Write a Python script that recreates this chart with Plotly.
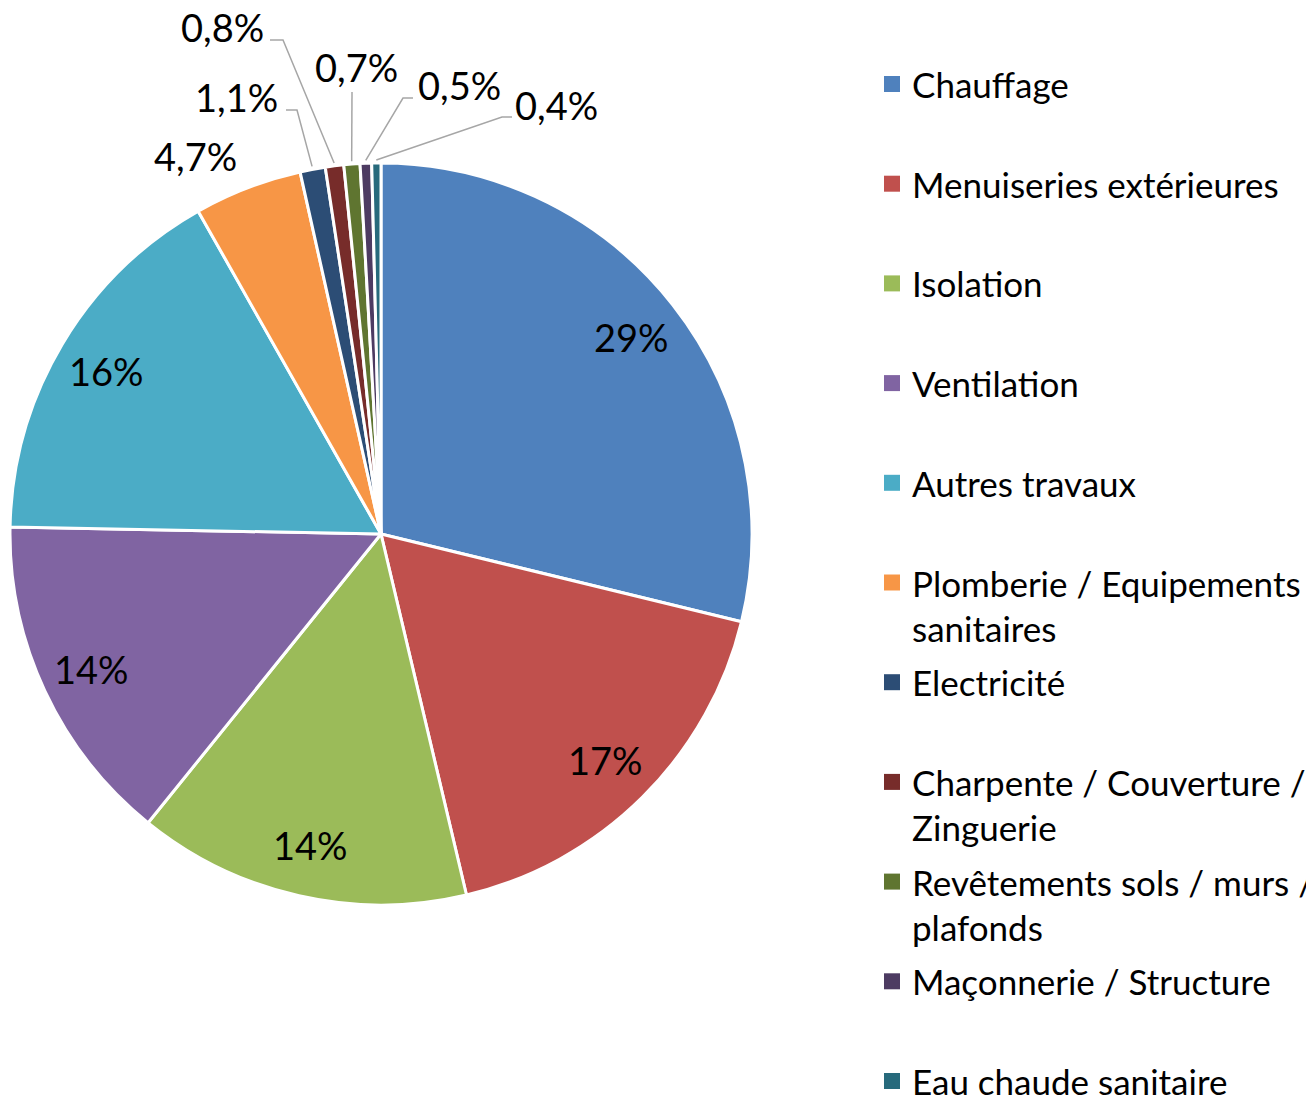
import math
import plotly.graph_objects as go

# the page body keeps its default 8 px margin, so the figure is drawn 8 px in
W, H = 1306, 1090
OFF = 8

# ----------------------------- data -----------------------------
categories = [
    "Chauffage", "Menuiseries extérieures", "Isolation", "Ventilation",
    "Autres travaux", "Plomberie / Equipements sanitaires", "Electricité",
    "Charpente / Couverture / Zinguerie", "Revêtements sols / murs / plafonds",
    "Maçonnerie / Structure", "Eau chaude sanitaire",
]
shares = [28.8, 17.5, 14.5, 14.5, 16.5, 4.7, 1.1, 0.8, 0.7, 0.5, 0.4]
share_labels = ["29%", "17%", "14%", "14%", "16%", "4,7%", "1,1%",
                "0,8%", "0,7%", "0,5%", "0,4%"]
legend_lines = [
    ["Chauffage"], ["Menuiseries extérieures"], ["Isolation"], ["Ventilation"],
    ["Autres travaux"], ["Plomberie / Equipements", "sanitaires"], ["Electricité"],
    ["Charpente / Couverture /", "Zinguerie"], ["Revêtements sols / murs /", "plafonds"],
    ["Maçonnerie / Structure"], ["Eau chaude sanitaire"],
]
colors = ["#4F81BD", "#C0504D", "#9BBB59", "#8064A2", "#4BACC6", "#F79646",
          "#2C4D75", "#772C2A", "#5F7530", "#4D3B62", "#276A7C"]

# ---------------------------- geometry ---------------------------
# everything below is in screen pixels; px() turns them into paper coords
CX, CY, R = 381, 534, 371          # pie centre / radius
FONT = "Lato"
FS_LABEL = 38
FS_LEGEND = 35
LINE_GREY = "#A6A6A6"

def px(x, y):
    return (x - OFF) / W, 1 - (y - OFF) / H

# labels drawn outside with leader lines (Excel moved these by hand)
outside = {
    5: dict(at=(195, 156), path=[]),
    6: dict(at=(236, 97), path=[(286, 110), (297, 110)]),
    7: dict(at=(222, 27), path=[(270, 40), (283, 40)]),
    8: dict(at=(356, 67), path=[(352, 92)]),
    9: dict(at=(459, 85), path=[(413, 98), (403, 98)]),
    10: dict(at=(556, 105), path=[(512, 117), (502, 117)]),
}

x0, y1 = px(CX - R, CY - R)
x1, y0 = px(CX + R, CY + R)
fig = go.Figure(go.Pie(
    labels=categories, values=shares, sort=False, direction="clockwise",
    rotation=0, textinfo="none", hoverinfo="label+percent",
    marker=dict(colors=colors, line=dict(color="white", width=3)),
    domain=dict(x=[x0, x1], y=[y0, y1]),
    showlegend=False,
))

annotations = []
shapes = []
total = sum(shares)
cum = 0.0
for i, v in enumerate(shares):
    mid = (cum + v / 2) / total * 2 * math.pi
    cum += v
    if i in outside:
        o = outside[i]
        ax, ay = o["at"]
        if o["path"]:
            ex = CX + (R + 3) * math.sin(mid)
            ey = CY - (R + 3) * math.cos(mid)
            pts = [px(*p) for p in o["path"]] + [px(ex, ey)]
            d = "M " + " L ".join(f"{x:.5f},{y:.5f}" for x, y in pts)
            shapes.append(dict(type="path", xref="paper", yref="paper", path=d,
                               line=dict(color=LINE_GREY, width=1.5)))
    else:
        ax = CX + 0.86 * R * math.sin(mid)
        ay = CY - 0.86 * R * math.cos(mid)
    x, y = px(ax, ay)
    annotations.append(dict(x=x, y=y, xref="paper", yref="paper", text=share_labels[i],
                            showarrow=False, xanchor="center", yanchor="middle",
                            font=dict(family=FONT, size=FS_LABEL, color="black")))

# legend, Excel style: one row every ~100 px, wrapped lines 45 px apart
ROW0, ROW_STEP, WRAP = 84, 99.7, 45
for i, lines in enumerate(legend_lines):
    ry = ROW0 + i * ROW_STEP
    sx0, sy1 = px(884, ry - 8)
    sx1, sy0 = px(900, ry + 8)
    shapes.append(dict(type="rect", xref="paper", yref="paper",
                       x0=sx0, x1=sx1, y0=sy0, y1=sy1,
                       fillcolor=colors[i], line=dict(width=0)))
    for k, t in enumerate(lines):
        x, y = px(910, ry + k * WRAP)
        annotations.append(dict(x=x, y=y, xref="paper", yref="paper", text=t,
                                showarrow=False, xanchor="left", yanchor="middle",
                                font=dict(family=FONT, size=FS_LEGEND, color="black")))

fig.update_layout(
    width=W, height=H, margin=dict(l=0, r=0, t=0, b=0),
    paper_bgcolor="white", plot_bgcolor="white",
    annotations=annotations, shapes=shapes,
    font=dict(family=FONT, size=FS_LEGEND, color="black"),
)

fig.write_html("out.html")
